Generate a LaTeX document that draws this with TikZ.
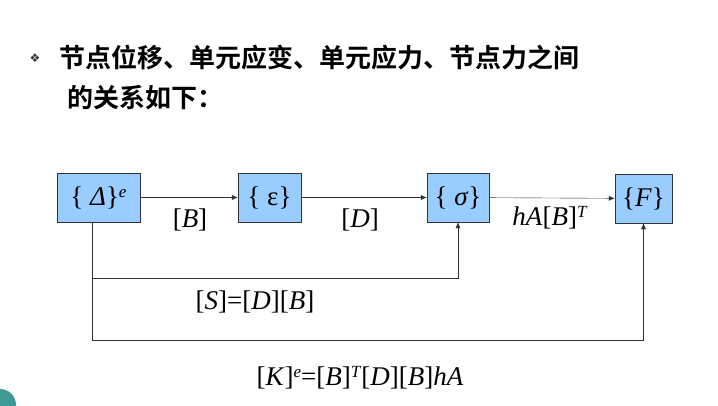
\documentclass[tikz,border=0pt]{standalone}
\usepackage{fontspec}
\newfontfamily\cjk{Noto Sans CJK SC}[BoldFont={Noto Sans CJK SC Bold}]
\newfontfamily\symfont{DejaVu Sans}
\newfontfamily\tms{Liberation Serif}
\usetikzlibrary{arrows.meta,positioning}
\definecolor{boxblue}{HTML}{99CCFF}
\definecolor{cornerteal}{HTML}{3E9A94}
\newcommand{\iv}[1]{\textit{#1}}
\tikzset{
  qbox/.style={draw=black!80,fill=boxblue,minimum height=49pt,inner sep=2pt,font=\tms\fontsize{27}{30}\selectfont},
  flow/.style={-{Latex[length=6pt,width=5pt]},black!80},
  mlabel/.style={font=\tms\fontsize{27}{30}\selectfont}
}
\begin{document}
\begin{tikzpicture}[x=1pt,y=1pt]
    \useasboundingbox (0,0) rectangle (718,405);
    % corner decoration
    \fill[cornerteal] (0,0) circle (16);
    
    % Title
    \node[anchor=west,font=\symfont\fontsize{12}{14}\selectfont,text=black!80] (bullet) at (26,405-58) {❖};
    \node[anchor=west,font=\cjk\bfseries\fontsize{26}{30}\selectfont] (title1) at (56,405-58) {节点位移、单元应变、单元应力、节点力之间};
    \node[anchor=west,font=\cjk\bfseries\fontsize{26}{30}\selectfont] (title2) at (64,405-98) {的关系如下：};
    
    % Boxes
    \node[qbox,minimum width=83pt] (disp) at (98.5,405-197.5) {\{ \iv{Δ}\}\raisebox{8pt}{\fontsize{17}{18}\selectfont\iv{e}}};
    \node[qbox,minimum width=63pt] (strain) at (269.5,405-197.5) {\{ ε\}};
    \node[qbox,minimum width=62pt] (stress) at (458,405-197.5) {\{ \iv{σ}\}};
    \node[qbox,minimum width=57pt] (force) at (643.5,405-198.5) {\{\iv{F}\}};
    
    % Main chain
    \draw[flow] (disp) -- (strain);
    \draw[flow] (strain) -- (stress);
    \draw[flow] (stress) -- (force);
    \node[mlabel] (lB) at (190,405-220) {[\iv{B}]};
    \node[mlabel] (lD) at (360,405-220) {[\iv{D}]};
    \node[mlabel] (lH) at (550,405-218) {\iv{hA}[\iv{B}]\raisebox{8pt}{\fontsize{17}{18}\selectfont\iv{T}}};
    
    % Feedback lines
    \coordinate (s1) at (92,405-278);
    \coordinate (s2) at (92,405-340);
    \draw[flow] (disp.south -| s1) -- (s1) -| (stress.south);
    \draw[flow] (s1) -- (s2) -| (force.south);
    \node[mlabel] (lS) at (255,405-302) {[\iv{S}]=[\iv{D}][\iv{B}]};
    \node[mlabel] (lK) at (360,405-378) {[\iv{K}]\raisebox{8pt}{\fontsize{17}{18}\selectfont\iv{e}}=[\iv{B}]\raisebox{8pt}{\fontsize{17}{18}\selectfont\iv{T}}[\iv{D}][\iv{B}]\iv{hA}};
\end{tikzpicture}
\end{document}
